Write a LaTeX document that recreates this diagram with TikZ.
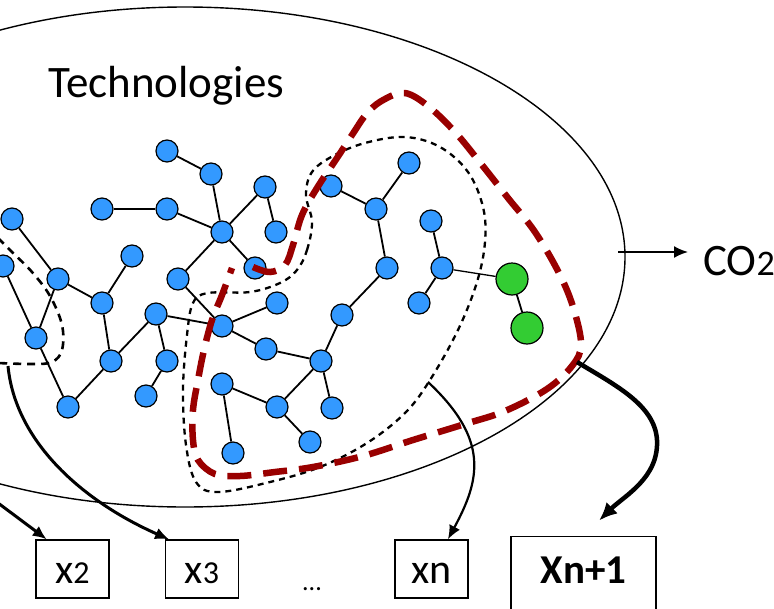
\documentclass[tikz,border=0pt]{standalone}
\usepackage{fontspec}
\setmainfont{Carlito}
\usetikzlibrary{arrows.meta}

\definecolor{techblue}{RGB}{51,153,255}
\definecolor{techgreen}{RGB}{51,204,51}
\definecolor{loopred}{RGB}{153,0,0}
\newcommand{\dsz}{\fontsize{32}{32}\selectfont}

\begin{document}
\begin{tikzpicture}[x=1pt, y=-1pt,
    tech/.style={circle, draw, line width=1.2pt, fill=techblue, minimum size=22pt, inner sep=0pt},
    newtech/.style={tech, fill=techgreen, minimum size=32pt},
    link/.style={line width=1.8pt},
    xbox/.style={draw, line width=1.3pt, minimum width=73pt, minimum height=58pt, inner sep=0pt,
                 text height=29pt, text depth=1pt, font=\fontsize{42}{42}\selectfont},
    flow/.style={-{Latex[length=14pt, width=12pt]}}]
    \clip (0,0) rectangle (774,608);

    % outer set of technologies
    \draw[line width=1.4pt] (185,257) ellipse [x radius=440, y radius=250];
    \node[anchor=base west, inner sep=0pt, font=\fontsize{45}{54}\selectfont] (title) at (48,97) {Technologies};

    % network
    \foreach \n/\px/\py in {1/167/151, 2/211/174, 3/265/187, 4/102/209, 5/167/209, 6/222/232,
        7/276/232, 8/12/219, 9/132/256, 10/58/279, 11/178/279, 12/255/268, 13/3/266,
        14/102/303, 15/156/314, 16/222/326, 17/277/303, 18/36/338, 19/111/361, 20/167/361,
        21/266/349, 22/146/396, 23/68/407, 24/222/384, 25/277/407, 26/331/186, 27/409/163,
        28/376/209, 29/431/221, 30/387/268, 31/442/268, 32/419/303, 33/342/315, 34/321/361,
        35/332/408, 36/310/442, 37/233/453} {
        \node[tech] (t\n) at (\px,\py) {};
    }
    \node[newtech] (g1) at (512,279) {};
    \node[newtech] (g2) at (527,328) {};

    \foreach \a/\b in {1/2, 2/6, 3/6, 3/7, 4/5, 5/6, 6/11, 6/12, 8/10, 9/14, 10/14, 10/18,
        13/18, 18/23, 14/19, 19/23, 19/15, 15/20, 20/22, 15/16, 11/16, 16/17, 16/21, 21/34,
        34/33, 33/30, 34/35, 34/25, 24/25, 25/36, 24/37, 30/28, 28/26, 28/27, 29/31, 31/32} {
        \draw[link] (t\a) -- (t\b);
    }
    \draw[line width=1.3pt] (t31) -- (g1);
    \draw[link] (g1) -- (g2);

    % subsets
    \draw[line width=2.6pt, dash pattern=on 8pt off 6pt] plot[smooth, tension=0.6] coordinates {
        (-2,238) (12,252) (32,272) (50,296) (62,325) (62,350) (52,362) (32,364) (-2,363)};
    \draw[line width=2.3pt, dash pattern=on 6pt off 5pt] plot[smooth cycle, tension=0.6] coordinates {
        (297,270) (307,250) (312,222) (306,195) (312,172) (333,156) (365,143) (405,137)
        (440,147) (468,172) (483,207) (485,242) (477,282) (458,330) (430,380) (405,413)
        (367,443) (320,467) (270,482) (218,492) (196,482) (186,445) (183,390) (187,335)
        (193,303) (208,293) (250,292) (280,283)};
    \draw[loopred, line width=6.5pt, dash pattern=on 24pt off 12pt] plot[smooth, tension=0.6] coordinates {
        (253,267) (270,272) (285,265) (293,245) (302,215) (317,188) (337,158) (352,135)
        (368,112) (385,99) (405,93) (428,106) (455,132) (482,165) (508,198) (535,232)
        (560,275) (574,310) (581,345) (572,366) (547,389) (505,411) (465,424) (413,440)
        (363,456) (313,467) (275,472) (240,476) (215,474) (198,460) (193,440) (193,410)
        (198,380) (204,350) (212,320) (222,295) (232,268)};

    % emissions
    \node[anchor=base west, inner sep=0pt, font=\fontsize{45}{54}\selectfont] (co2) at (703,275) {CO{\fontsize{36}{36}\selectfont 2}};
    \coordinate (emit) at (618,252);
    \draw[line width=1.8pt, flow, shorten >=15pt] (emit) -- (emit -| co2.west);

    % variables
    \node[xbox] (x2) at (72.5,569) {x{\dsz 2}};
    \node[xbox] (x3) at (202,569) {x{\dsz 3}};
    \node[anchor=base, font=\fontsize{26}{26}\selectfont] (dots) at (312,590) {...};
    \node[xbox] (xn) at (431.5,569) {xn};
    \node[draw, line width=1.3pt, anchor=north, minimum width=145pt, inner ysep=21pt,
          text height=26pt, text depth=37pt, font=\bfseries\fontsize{41}{41}\selectfont] (xlast) at (583.5,536) {Xn+1};

    \coordinate (from2) at (-10,497);
    \coordinate (from3) at (8,366);
    \coordinate (fromn) at (428,382);
    \coordinate (fromlast) at (577,362);
    \draw[line width=3pt, flow] (from2) -- (x2.131);
    \draw[line width=3pt, flow] (from3) .. controls (15,440) and (80,500) .. (x3.138);
    \draw[line width=2.2pt, flow] (fromn) .. controls (490,440) and (480,480) .. (xn.61);
    \draw[line width=4.5pt, -{Latex[length=18pt, width=16pt]}, shorten >=22pt] (fromlast)
        .. controls (615,385) and (655,405) .. (657,440)
        .. controls (659,478) and (624,496) .. (xlast.north);
\end{tikzpicture}
\end{document}
